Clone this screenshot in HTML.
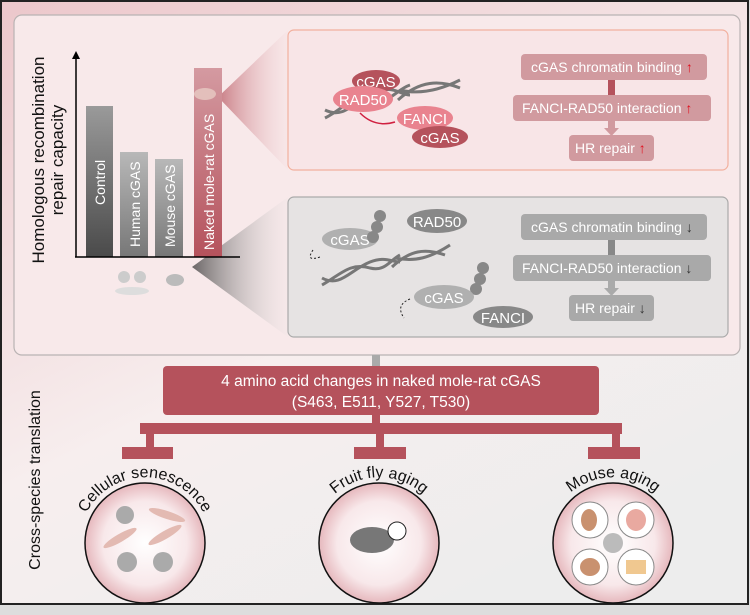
<!DOCTYPE html>
<html><head><meta charset="utf-8"><style>
html,body{margin:0;padding:0;background:#fff}
svg{display:block;font-family:"Liberation Sans",Arial,sans-serif}
</style></head><body>
<svg width="750" height="615" viewBox="0 0 750 615" xmlns="http://www.w3.org/2000/svg">
<defs>
<linearGradient id="bgb" x1="0" y1="0" x2="0.6" y2="1">
<stop offset="0" stop-color="#ecc7cb"/><stop offset="0.6" stop-color="#f7eeee"/><stop offset="1" stop-color="#ededed"/></linearGradient>
<linearGradient id="g1" x1="0" y1="0" x2="0" y2="1"><stop offset="0" stop-color="#9a9a9a"/><stop offset="1" stop-color="#4a4a4a"/></linearGradient>
<linearGradient id="g2" x1="0" y1="0" x2="0" y2="1"><stop offset="0" stop-color="#b8b8b8"/><stop offset="1" stop-color="#777"/></linearGradient>
<linearGradient id="g3" x1="0" y1="0" x2="0" y2="1"><stop offset="0" stop-color="#d49aa1"/><stop offset="1" stop-color="#b5525c"/></linearGradient>
<linearGradient id="fr" x1="0" y1="0" x2="1" y2="0"><stop offset="0" stop-color="#b5525c" stop-opacity="0.9"/><stop offset="1" stop-color="#f0c8cc" stop-opacity="0.1"/></linearGradient>
<linearGradient id="fg" x1="0" y1="0" x2="1" y2="0"><stop offset="0" stop-color="#333" stop-opacity="0.9"/><stop offset="1" stop-color="#ddd" stop-opacity="0.1"/></linearGradient>
<radialGradient id="cg"><stop offset="0" stop-color="#fff"/><stop offset="0.7" stop-color="#f8e8ea"/><stop offset="1" stop-color="#e6b8bd"/></radialGradient>
<path id="a1" d="M88,510 A66,66 0 0,1 202,510"/>
<path id="a2" d="M322,510 A66,66 0 0,1 436,510"/>
<path id="a3" d="M556,510 A66,66 0 0,1 670,510"/>
</defs>
<rect x="0" y="0" width="750" height="615" fill="#ddd"/>
<rect x="1" y="1" width="747" height="603" fill="url(#bgb)" stroke="#222" stroke-width="2"/>
<rect x="14" y="15" width="726" height="340" rx="8" fill="#f8e9ea" stroke="#b9b3b3" stroke-width="1.2"/>
<g font-size="17" fill="#111" text-anchor="middle">
<text transform="translate(44,160) rotate(-90)">Homologous recombination</text>
<text transform="translate(63,160) rotate(-90)">repair capacity</text>
</g>
<polygon points="218,97 288,30 288,170" fill="url(#fr)" opacity="0.8"/>
<polygon points="192,267 288,197 288,337" fill="url(#fg)" opacity="0.8"/>
<rect x="86" y="106" width="27" height="151" fill="url(#g1)"/>
<rect x="120" y="152" width="28" height="105" fill="url(#g2)"/>
<rect x="155" y="159" width="28" height="98" fill="url(#g2)"/>
<rect x="194" y="68" width="28" height="189" fill="url(#g3)"/>
<g font-size="14" fill="#fff">
<text transform="translate(105,205) rotate(-90)">Control</text>
<text transform="translate(140,247) rotate(-90)">Human cGAS</text>
<text transform="translate(175,247) rotate(-90)">Mouse cGAS</text>
<text transform="translate(214,250) rotate(-90)">Naked mole-rat cGAS</text>
</g>
<line x1="76" y1="57" x2="76" y2="257" stroke="#000" stroke-width="1.5"/>
<polygon points="76,51 72,59 80,59" fill="#000"/>
<line x1="75" y1="257" x2="240" y2="257" stroke="#000" stroke-width="1.5"/>
<ellipse cx="205" cy="94" rx="11" ry="6" fill="#e3bfbb"/>
<circle cx="124" cy="277" r="6" fill="#ccc"/><circle cx="140" cy="277" r="6" fill="#ccc"/>
<ellipse cx="132" cy="291" rx="17" ry="4" fill="#ddd"/>
<ellipse cx="175" cy="280" rx="9" ry="6" fill="#bbb"/>
<rect x="288" y="30" width="440" height="140" rx="6" fill="#f8e5e7" stroke="#f2b09e" stroke-width="1.2"/>
<g stroke="#777" stroke-width="3" fill="none">
<path d="M325,118 C345,108 350,95 370,100 C390,105 395,90 410,85"/>
<path d="M325,110 C345,120 355,100 375,92 C395,85 400,95 410,95"/>
<path d="M398,100 C420,80 440,80 460,88 M400,90 C420,95 440,90 460,80"/>
</g>
<ellipse cx="376" cy="81" rx="24" ry="11" fill="#b5525c"/><text x="376" y="87" font-size="15" fill="#fff" text-anchor="middle">cGAS</text>
<ellipse cx="363" cy="99" rx="30" ry="13" fill="#e9838f"/><text x="363" y="105" font-size="15" fill="#fff" text-anchor="middle">RAD50</text>
<ellipse cx="425" cy="118" rx="28" ry="12" fill="#e9838f"/><text x="425" y="124" font-size="15" fill="#fff" text-anchor="middle">FANCI</text>
<ellipse cx="440" cy="137" rx="28" ry="11" fill="#b5525c"/><text x="440" y="143" font-size="15" fill="#fff" text-anchor="middle">cGAS</text>
<path d="M360,113 Q375,128 395,122" stroke="#d02040" stroke-width="1.5" fill="none"/>
<rect x="608" y="80" width="7" height="15" fill="#b5525c"/>
<rect x="608" y="121" width="7" height="8" fill="#d19a9f"/><polygon points="604,128 619,128 611.5,136" fill="#d19a9f"/>
<rect x="521" y="54" width="186" height="26" rx="4" fill="#d19a9f"/>
<rect x="513" y="95" width="198" height="26" rx="4" fill="#d19a9f"/>
<rect x="569" y="135" width="85" height="26" rx="4" fill="#d19a9f"/>
<g font-size="14" fill="#fff">
<text x="531" y="72">cGAS chromatin binding <tspan fill="#e0101e">↑</tspan></text>
<text x="522" y="113">FANCI-RAD50 interaction <tspan fill="#e0101e">↑</tspan></text>
<text x="575" y="153">HR repair <tspan fill="#e0101e">↑</tspan></text>
</g>
<rect x="288" y="197" width="440" height="140" rx="6" fill="#e6e3e3" stroke="#aaa" stroke-width="1.2"/>
<g stroke="#777" stroke-width="3" fill="none">
<path d="M322,285 C340,275 350,262 370,268 C385,272 390,260 400,255 M322,278 C340,288 350,270 370,262 C385,256 392,262 400,262"/>
<path d="M392,267 C410,250 425,248 445,255 M395,258 C415,262 430,258 450,245"/>
</g>
<ellipse cx="350" cy="239" rx="28" ry="11" fill="#b0b0b0"/><text x="350" y="245" font-size="15" fill="#fff" text-anchor="middle">cGAS</text>
<g fill="#888"><circle cx="380" cy="216" r="6"/><circle cx="377" cy="227" r="6"/><circle cx="373" cy="237" r="6"/>
<circle cx="483" cy="268" r="6"/><circle cx="480" cy="279" r="6"/><circle cx="476" cy="289" r="6"/></g>
<ellipse cx="437" cy="221" rx="30" ry="12" fill="#888"/><text x="437" y="227" font-size="15" fill="#fff" text-anchor="middle">RAD50</text>
<ellipse cx="444" cy="297" rx="30" ry="12" fill="#b0b0b0"/><text x="444" y="303" font-size="15" fill="#fff" text-anchor="middle">cGAS</text>
<ellipse cx="503" cy="317" rx="30" ry="11" fill="#888"/><text x="503" y="323" font-size="15" fill="#fff" text-anchor="middle">FANCI</text>
<path d="M313,250 Q305,262 320,257" stroke="#222" stroke-dasharray="2,2" fill="none"/>
<path d="M410,299 Q395,305 404,318" stroke="#222" stroke-dasharray="2,2" fill="none"/>
<rect x="608" y="240" width="7" height="15" fill="#888"/>
<rect x="608" y="281" width="7" height="8" fill="#aaa"/><polygon points="604,288 619,288 611.5,296" fill="#aaa"/>
<rect x="521" y="214" width="186" height="26" rx="4" fill="#a9a9a9"/>
<rect x="513" y="255" width="198" height="26" rx="4" fill="#a9a9a9"/>
<rect x="569" y="295" width="85" height="26" rx="4" fill="#a9a9a9"/>
<g font-size="14" fill="#fff">
<text x="531" y="232">cGAS chromatin binding <tspan fill="#333">↓</tspan></text>
<text x="522" y="273">FANCI-RAD50 interaction <tspan fill="#333">↓</tspan></text>
<text x="575" y="313">HR repair <tspan fill="#333">↓</tspan></text>
</g>
<rect x="372" y="355" width="8" height="11" fill="#aaa"/>
<rect x="163" y="366" width="436" height="49" rx="4" fill="#b5525c"/>
<g font-size="15.5" fill="#fff" text-anchor="middle">
<text x="381" y="386">4 amino acid changes in naked mole-rat cGAS</text>
<text x="381" y="407">(S463, E511, Y527, T530)</text>
</g>
<g fill="#b5525c">
<rect x="372" y="415" width="8" height="9"/>
<rect x="140" y="423" width="482" height="11"/>
<rect x="146" y="434" width="8" height="13"/><rect x="122" y="447" width="51" height="12"/>
<rect x="376" y="434" width="8" height="13"/><rect x="354" y="447" width="52" height="12"/>
<rect x="612" y="434" width="8" height="13"/><rect x="588" y="447" width="52" height="12"/>
</g>
<text transform="translate(40,480) rotate(-90)" font-size="16" fill="#111" text-anchor="middle">Cross-species translation</text>
<g stroke="#111" stroke-width="1.5" fill="url(#cg)">
<circle cx="145" cy="543" r="60"/>
<circle cx="379" cy="543" r="60"/>
<circle cx="613" cy="543" r="60"/>
</g>
<g font-size="16" fill="#111">
<text><textPath href="#a1" startOffset="50%" text-anchor="middle">Cellular senescence</textPath></text>
<text><textPath href="#a2" startOffset="50%" text-anchor="middle">Fruit fly aging</textPath></text>
<text><textPath href="#a3" startOffset="50%" text-anchor="middle">Mouse aging</textPath></text>
</g>
<g fill="#aaa"><circle cx="125" cy="515" r="9"/><circle cx="127" cy="562" r="10"/><circle cx="163" cy="562" r="10"/></g>
<g fill="#e3bab2"><ellipse cx="167" cy="515" rx="19" ry="4" transform="rotate(18 167 515)"/><ellipse cx="120" cy="538" rx="19" ry="4" transform="rotate(-30 120 538)"/><ellipse cx="165" cy="535" rx="19" ry="4" transform="rotate(-30 165 535)"/></g>
<ellipse cx="372" cy="540" rx="22" ry="13" fill="#777"/><circle cx="397" cy="531" r="9" fill="#fff" stroke="#222"/>
<g fill="#fff" stroke="#888"><circle cx="590" cy="520" r="18"/><circle cx="636" cy="520" r="18"/><circle cx="590" cy="567" r="18"/><circle cx="636" cy="567" r="18"/></g>
<g fill="#c9916f"><ellipse cx="589" cy="520" rx="8" ry="11"/><ellipse cx="590" cy="567" rx="10" ry="9"/></g>
<ellipse cx="636" cy="520" rx="10" ry="11" fill="#e9a9a0"/>
<rect x="626" y="560" width="20" height="14" fill="#f0c890"/>
<circle cx="613" cy="543" r="10" fill="#bbb"/>
</svg>
</body></html>
